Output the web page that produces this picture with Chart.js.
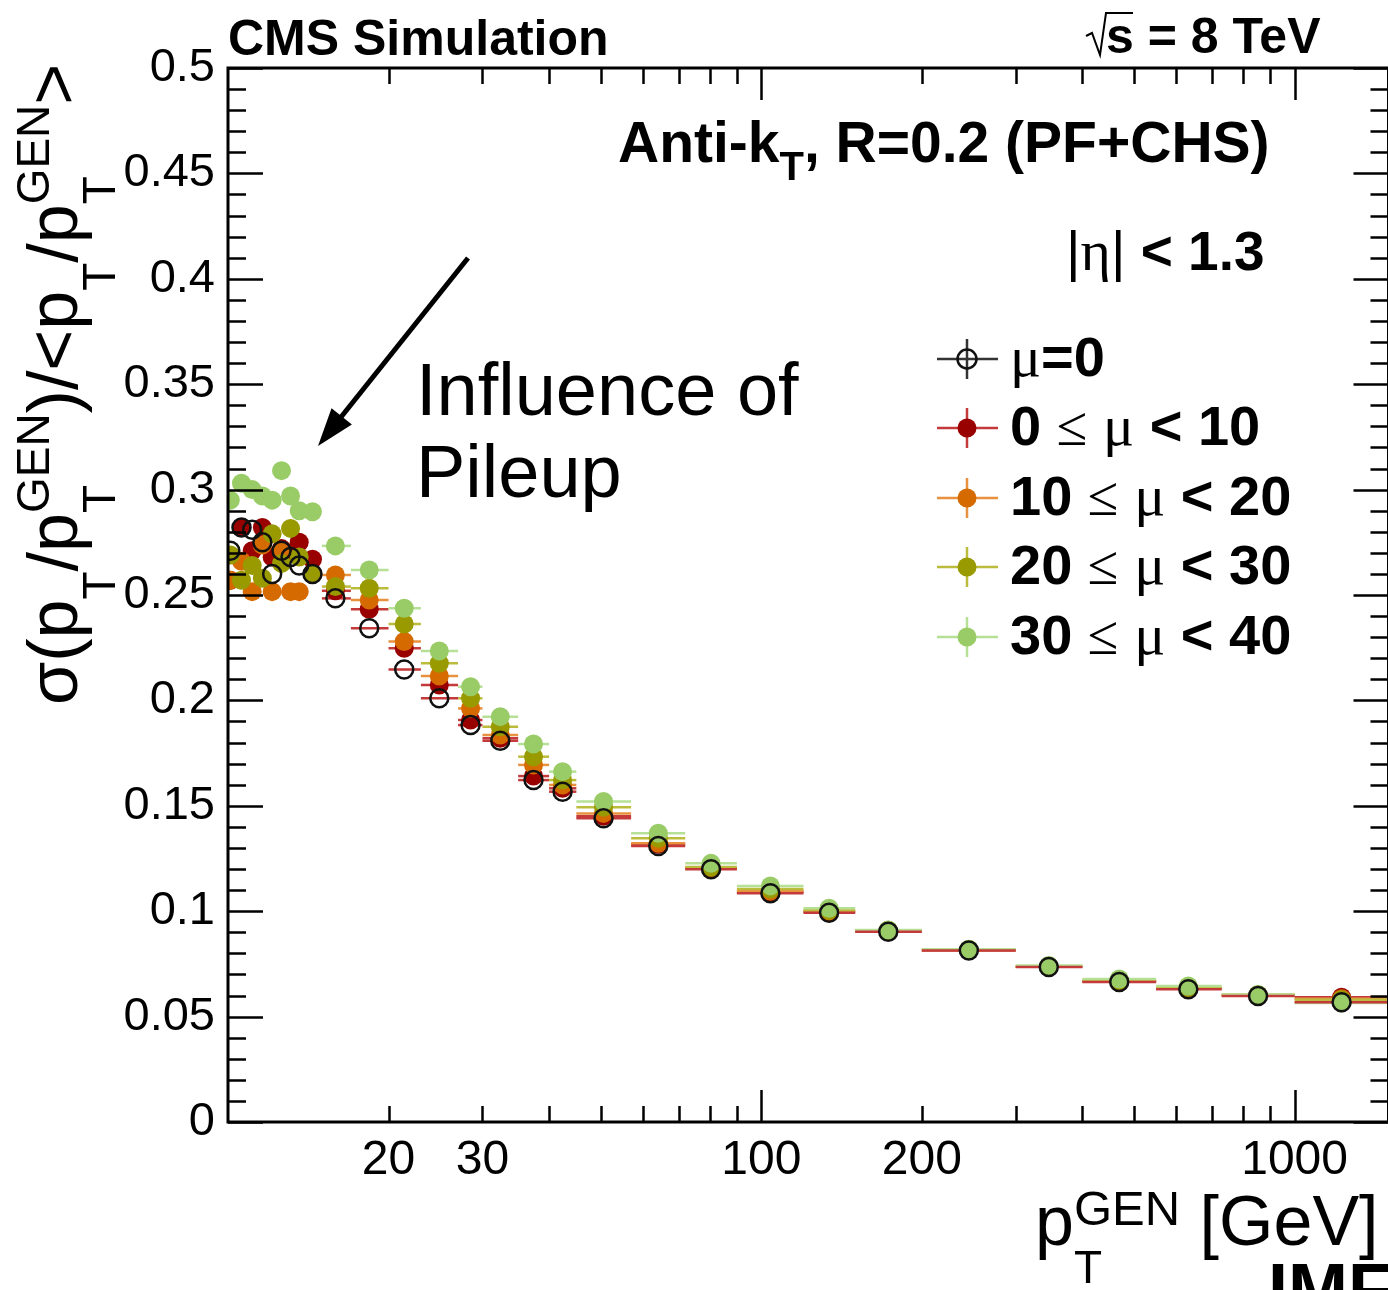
<!DOCTYPE html>
<html>
<head>
<meta charset="utf-8">
<script src="https://cdn.jsdelivr.net/npm/chart.js@4.4.1/dist/chart.umd.min.js"></script>
<style>
html, body { margin: 0; padding: 0; overflow: hidden; background: #fff; }
canvas { display: block; }
</style>
</head>
<body>
<canvas id="c" width="1400" height="1290" style="width:1400px;height:1290px"></canvas>
<script>
// low-pT points (no visible x error bars)
const lowPt = [10.1, 10.6, 11.1, 11.6, 12.1, 12.6, 13.1, 13.6, 14.4];
// binned points
const binPt = [15.9, 18.4, 21.4, 24.9, 28.5, 32.4, 37.4, 42.4, 50.6, 64.1, 80.5, 104, 134, 173, 245, 346, 469, 632, 854, 1225];
const binLo = [15, 17, 20, 23, 27, 30, 35, 40, 45, 57, 72, 90, 120, 150, 200, 300, 400, 550, 730, 1000];
const binHi = [17, 20, 23, 27, 30, 35, 40, 45, 57, 72, 90, 120, 150, 200, 300, 400, 550, 730, 1000, 1500];

const mu0Low = [0.271, 0.282, 0.281, 0.275, 0.260, 0.271, 0.268, 0.264, 0.260];
const mu0Bins = [0.2484, 0.2342, 0.2147, 0.201, 0.1883, 0.1809, 0.1622, 0.1567, 0.1441, 0.1309, 0.1199, 0.1085, 0.0993, 0.0903, 0.0814, 0.0735, 0.0664, 0.0630, 0.0598, 0.0568];

const mu0to10Low = [0.257, 0.282, 0.271, 0.282, 0.268, 0.272, 0.270, 0.275, 0.267];
const mu0to10Bins = [0.252, 0.2432, 0.2247, 0.2073, 0.1907, 0.182, 0.1641, 0.1583, 0.145, 0.1318, 0.1205, 0.1092, 0.0997, 0.0905, 0.0815, 0.0737, 0.0668, 0.0635, 0.0602, 0.0592];

const mu10to20Low = [0.257, 0.266, 0.2516, 0.2737, 0.2516, 0.271, 0.2516, 0.2516, null];
const mu10to20Bins = [0.2595, 0.2476, 0.2279, 0.2116, 0.1962, 0.1836, 0.1694, 0.1599, 0.1464, 0.1322, 0.1205, 0.1095, 0.1000, 0.0907, 0.0815, 0.0737, 0.0668, 0.0635, 0.0603, 0.0585];

const mu20to30Low = [0.269, 0.257, 0.264, 0.258, 0.279, 0.265, 0.2816, 0.268, 0.260];
const mu20to30Bins = [0.254, 0.2532, 0.2362, 0.2176, 0.201, 0.1875, 0.1733, 0.1622, 0.1493, 0.1346, 0.121, 0.1105, 0.1005, 0.091, 0.0818, 0.0738, 0.0672, 0.0638, 0.0603, 0.058];

const mu30to40Low = [0.295, 0.303, 0.300, 0.297, 0.295, 0.309, 0.297, 0.290, 0.2895];
const mu30to40Bins = [0.2733, 0.2619, 0.2437, 0.2234, 0.2065, 0.1923, 0.1793, 0.1662, 0.152, 0.137, 0.1227, 0.112, 0.1014, 0.0911, 0.082, 0.0742, 0.0678, 0.0645, 0.0605, 0.0565];

const xTickLabels = [20, 30, 100, 200, 1000];
const xMajor = [100, 1000];
const xMinor = [20, 30, 40, 50, 60, 70, 80, 90, 200, 300, 400, 500, 600, 700, 800, 900];

const SANS = '"Liberation Sans", Arial, sans-serif';
const SERIF = '"Liberation Serif", "Times New Roman", serif';
const fs = (s, b) => (b ? 'bold ' : '') + s + 'px ' + SANS;
const fserif = s => s + 'px ' + SERIF;

const series = [
    { label: 'mu0', low: mu0Low, bins: mu0Bins, fill: 'rgba(0,0,0,0)', stroke: '#111', bar: '#c43a3a', leg: '#333', order: 0 },
    { label: 'mu0to10', low: mu0to10Low, bins: mu0to10Bins, fill: '#990000', stroke: '#990000', bar: '#c43a3a', leg: '#c43a3a', order: 4 },
    { label: 'mu10to20', low: mu10to20Low, bins: mu10to20Bins, fill: '#d46a00', stroke: '#d46a00', bar: '#e8913f', leg: '#e8913f', order: 3 },
    { label: 'mu20to30', low: mu20to30Low, bins: mu20to30Bins, fill: '#999900', stroke: '#999900', bar: '#bcbc3c', leg: '#bcbc3c', order: 2 },
    { label: 'mu30to40', low: mu30to40Low, bins: mu30to40Bins, fill: '#99cc66', stroke: '#99cc66', bar: '#b6e096', leg: '#b6e096', order: 1 }
];

function drawParts(ctx, x, y, parts) {
    for (const p of parts) {
        let w = 0;
        for (const q of (p.stack || [p])) {
            ctx.font = q.f;
            ctx.fillText(q.t, x, y + (q.dy || 0));
            w = Math.max(w, ctx.measureText(q.t).width);
        }
        x += w;
    }
    return x;
}

const rootStyle = {
    id: 'rootStyle',
    beforeDatasetsDraw(chart) {
        const { ctx, chartArea: a, scales: { x, y } } = chart;
        ctx.save();
        ctx.lineWidth = 2.5;
        const byOrder = series.slice().sort((p, q) => q.order - p.order);
        for (const s of byOrder) {
            ctx.strokeStyle = s.bar;
            s.bins.forEach((v, i) => {
                if (v == null) return;
                const py = y.getPixelForValue(v);
                ctx.beginPath();
                ctx.moveTo(x.getPixelForValue(binLo[i]), py);
                ctx.lineTo(Math.min(x.getPixelForValue(binHi[i]), a.right), py);
                ctx.stroke();
            });
        }
        ctx.restore();
    },
    afterDraw(chart) {
        const { ctx, chartArea: a, scales: { x, y } } = chart;
        ctx.save();
        ctx.strokeStyle = '#000';
        ctx.fillStyle = '#000';

        // frame
        ctx.lineWidth = 3;
        ctx.strokeRect(a.left, a.top, a.right - a.left, a.bottom - a.top);

        // y ticks, both sides
        ctx.lineWidth = 2.5;
        for (let k = 0; k <= 50; k++) {
            const py = Math.round(y.getPixelForValue(k / 100)) + 0.5;
            const len = k % 5 === 0 ? 35 : 18;
            ctx.beginPath();
            ctx.moveTo(a.left, py); ctx.lineTo(a.left + len, py);
            ctx.moveTo(a.right, py); ctx.lineTo(a.right - len, py);
            ctx.stroke();
        }
        // x ticks, bottom and top
        const xt = xMinor.map(v => [v, 16]).concat(xMajor.map(v => [v, 32]));
        for (const [v, len] of xt) {
            const px = Math.round(x.getPixelForValue(v)) + 0.5;
            ctx.beginPath();
            ctx.moveTo(px, a.bottom); ctx.lineTo(px, a.bottom - len);
            ctx.moveTo(px, a.top); ctx.lineTo(px, a.top + len);
            ctx.stroke();
        }

        ctx.textBaseline = 'alphabetic';
        ctx.textAlign = 'left';

        // header
        ctx.font = fs(50, true);
        ctx.fillText('CMS Simulation', 228, 55);
        ctx.font = fs(50, true);
        ctx.fillText('s = 8 TeV', 1106, 53);
        ctx.lineWidth = 2;
        ctx.beginPath();
        ctx.moveTo(1086, 36); ctx.lineTo(1092, 33); ctx.lineTo(1100, 55); ctx.lineTo(1106, 13); ctx.lineTo(1133, 13);
        ctx.stroke();

        // jet info
        drawParts(ctx, 618, 162, [
            { t: 'Anti-k', f: fs(57, true) },
            { t: 'T', f: fs(40, true), dy: 18 },
            { t: ', R=0.2 (PF+CHS)', f: fs(57, true) }
        ]);
        drawParts(ctx, 1066, 270, [
            { t: '|', f: fs(56) },
            { t: 'η', f: fserif(58) },
            { t: '|', f: fs(56) },
            { t: ' < 1.3', f: fs(55, true) }
        ]);

        // legend
        const rowsY = [359, 428, 498, 567, 637];
        const texts = [
            [{ t: 'μ', f: fserif(58) }, { t: '=0', f: fs(56, true) }],
            [{ t: '0 ', f: fs(56, true) }, { t: '≤', f: fserif(56) }, { t: ' ', f: fs(56, true) }, { t: 'μ', f: fserif(58) }, { t: ' < 10', f: fs(56, true) }],
            [{ t: '10 ', f: fs(56, true) }, { t: '≤', f: fserif(56) }, { t: ' ', f: fs(56, true) }, { t: 'μ', f: fserif(58) }, { t: ' < 20', f: fs(56, true) }],
            [{ t: '20 ', f: fs(56, true) }, { t: '≤', f: fserif(56) }, { t: ' ', f: fs(56, true) }, { t: 'μ', f: fserif(58) }, { t: ' < 30', f: fs(56, true) }],
            [{ t: '30 ', f: fs(56, true) }, { t: '≤', f: fserif(56) }, { t: ' ', f: fs(56, true) }, { t: 'μ', f: fserif(58) }, { t: ' < 40', f: fs(56, true) }]
        ];
        series.forEach((s, i) => {
            const cy = rowsY[i], cx = 967;
            ctx.strokeStyle = s.leg;
            ctx.lineWidth = 2.5;
            ctx.beginPath();
            ctx.moveTo(937, cy); ctx.lineTo(998, cy);
            ctx.moveTo(cx, cy - 20); ctx.lineTo(cx, cy + 20);
            ctx.stroke();
            ctx.beginPath();
            ctx.arc(cx, cy, 9.5, 0, Math.PI * 2);
            if (i === 0) {
                ctx.strokeStyle = '#111';
                ctx.stroke();
            } else {
                ctx.fillStyle = s.fill;
                ctx.fill();
            }
            ctx.fillStyle = '#000';
            drawParts(ctx, 1010, cy + 17, texts[i]);
        });

        // annotation
        ctx.font = fs(74);
        ctx.fillText('Influence of', 416, 415);
        ctx.fillText('Pileup', 416, 497);
        ctx.strokeStyle = '#000';
        ctx.lineWidth = 5;
        const x0 = 468, y0 = 258, x1 = 318, y1 = 446;
        const ang = Math.atan2(y1 - y0, x1 - x0);
        ctx.beginPath();
        ctx.moveTo(x0, y0);
        ctx.lineTo(x1 - 30 * Math.cos(ang), y1 - 30 * Math.sin(ang));
        ctx.stroke();
        ctx.beginPath();
        ctx.moveTo(x1, y1);
        ctx.lineTo(x1 - 38 * Math.cos(ang) + 13 * Math.sin(ang), y1 - 38 * Math.sin(ang) - 13 * Math.cos(ang));
        ctx.lineTo(x1 - 38 * Math.cos(ang) - 13 * Math.sin(ang), y1 - 38 * Math.sin(ang) + 13 * Math.cos(ang));
        ctx.closePath();
        ctx.fill();

        // x title
        drawParts(ctx, 1035, 1245, [
            { t: 'p', f: fs(70) },
            { stack: [{ t: 'T', f: fs(46), dy: 38 }, { t: 'GEN', f: fs(49), dy: -20 }] },
            { t: ' [GeV]', f: fs(70) }
        ]);
        ctx.font = fs(72, true);
        ctx.fillText('IMF', 1268, 1314);

        // y title
        ctx.translate(77, 705);
        ctx.rotate(-Math.PI / 2);
        const M = fs(70), S = fs(46);
        const sub = { t: 'T', f: S, dy: 38 }, sup = { t: 'GEN', f: S, dy: -28 };
        drawParts(ctx, 0, 0, [
            { t: 'σ(p', f: M }, { stack: [sub] },
            { t: '/p', f: M }, { stack: [sub, sup] },
            { t: ')/<p', f: M }, { stack: [sub] },
            { t: '/p', f: M }, { stack: [sub, sup] },
            { t: '>', f: M }
        ]);
        ctx.restore();
    }
};

const datasets = series.map(s => ({
    label: s.label,
    data: lowPt.map((x, i) => ({ x, y: s.low[i] })).concat(binPt.map((x, i) => ({ x, y: s.bins[i] }))),
    showLine: false,
    order: s.order,
    pointRadius: s.order === 0 ? 9 : 9.5,
    pointBackgroundColor: s.fill,
    pointBorderColor: s.stroke,
    pointBorderWidth: s.order === 0 ? 2.5 : 0
}));

new Chart(document.getElementById('c').getContext('2d'), {
    type: 'scatter',
    data: { datasets },
    options: {
        responsive: false,
        devicePixelRatio: 1,
        animation: false,
        events: [],
        layout: { padding: { top: 68, right: 9, left: 0, bottom: 0 } },
        plugins: { legend: { display: false }, tooltip: { enabled: false } },
        scales: {
            x: {
                type: 'logarithmic',
                min: 10,
                max: 1500,
                afterFit: s => { s.height = 168; },
                afterBuildTicks: s => { s.ticks = xTickLabels.map(v => ({ value: v })); },
                grid: { display: false, drawTicks: false },
                border: { display: false },
                ticks: {
                    autoSkip: false,
                    maxRotation: 0,
                    padding: 10,
                    color: '#000',
                    font: { family: SANS, size: 48 },
                    callback: v => String(v)
                }
            },
            y: {
                min: 0,
                max: 0.5,
                afterFit: s => { s.width = 228; },
                grid: { display: false, drawTicks: false },
                border: { display: false },
                ticks: {
                    stepSize: 0.05,
                    padding: 13,
                    color: '#000',
                    font: { family: SANS, size: 47 },
                    callback: v => String(+v.toFixed(2))
                }
            }
        }
    },
    plugins: [rootStyle]
});
</script>
</body>
</html>
